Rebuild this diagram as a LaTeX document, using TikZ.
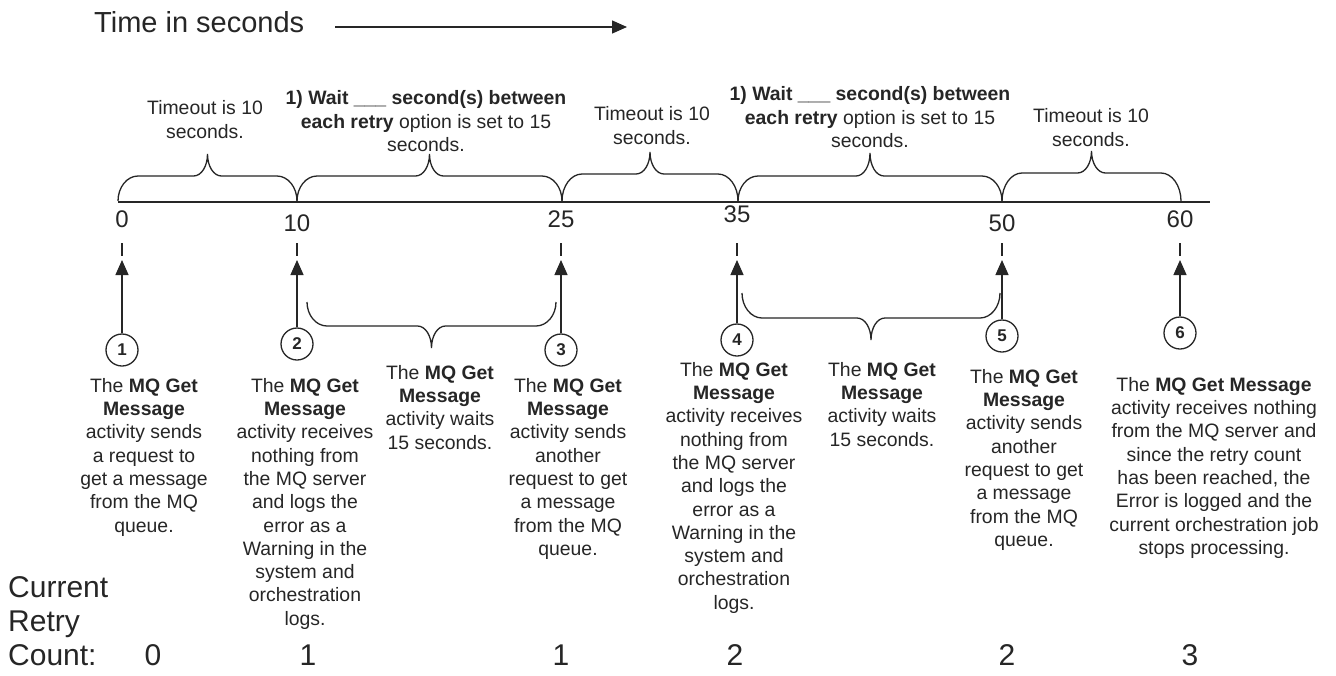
\documentclass[tikz,border=0pt]{standalone}
\usepackage{fontspec}
\setmainfont{Liberation Sans}
\usetikzlibrary{arrows.meta}
% brace: x0 x1 yend yflat ytip
\newcommand\mybrace[5]{%
  \pgfmathsetmacro\bxm{(#1+#2)/2}%
  \pgfmathsetmacro\bya{#3+0.55*(#4-#3)}%
  \pgfmathsetmacro\byb{#4+0.45*(#5-#4)}%
  \draw[brc] (#1,#3) .. controls (#1,\bya) and (#1+9,#4) .. (#1+20,#4)
    -- (\bxm-14,#4) .. controls (\bxm-6,#4) and (\bxm,\byb) .. (\bxm,#5)
    .. controls (\bxm,\byb) and (\bxm+6,#4) .. (\bxm+14,#4)
    -- (#2-20,#4) .. controls (#2-9,#4) and (#2,\bya) .. (#2,#3);%
}
\begin{document}
\begin{tikzpicture}[x=1pt,y=-1pt,
  ink/.style={draw=black!85},
  axisline/.style={ink, line width=1.4pt},
  brc/.style={ink, line width=1.3pt},
  tickmark/.style={ink, line width=1.2pt},
  myarrow/.style={ink, line width=1.3pt, -{Triangle[length=15pt,width=13pt]}},
  num/.style={circle, ink, line width=1.3pt, minimum size=32pt, inner sep=0pt,
    font=\fontsize{17}{17}\selectfont\bfseries, text=black!85},
  desc/.style={align=center, anchor=north, inner sep=0pt,
    font=\fontsize{19.4}{23.3}\selectfont, text=black!85},
  toplbl/.style={align=center, anchor=north, inner sep=0pt,
    font=\fontsize{19.4}{23.8}\selectfont, text=black!85},
  axlbl/.style={anchor=base, inner sep=0pt, font=\fontsize{24}{24}\selectfont, text=black!85},
  cnt/.style={anchor=base, inner sep=0pt, font=\fontsize{30}{30}\selectfont, text=black!85}
]
\useasboundingbox[fill=white] (0,0) rectangle (1336,675);

% title
\node[anchor=base west, inner sep=0pt, font=\fontsize{29}{29}\selectfont, text=black!85] (time) at (94,32) {Time in seconds};
\coordinate (ts) at (335,27);
\coordinate (te) at (627,27);
\draw[myarrow] (ts) -- (te);

% axis
\coordinate (ax0) at (118,202);
\coordinate (ax1) at (1210,202);
\draw[axisline] (ax0) -- (ax1);

% upper braces
\mybrace{118}{297}{201}{176}{154}
\mybrace{297}{562}{201}{176}{154}
\mybrace{562}{738}{201}{174}{152}
\mybrace{738}{1002}{201}{176}{153}
\mybrace{1002}{1181}{201}{173}{151}

% upper labels
\node[toplbl] (l1) at (205,100) {Timeout is 10\\seconds.};
\node[toplbl] (l2) at (426,90) {\textbf{1) Wait \_\_\_ second(s) between}\\\textbf{each retry} option is set to 15\\seconds.};
\node[toplbl] (l3) at (652,106) {Timeout is 10\\seconds.};
\node[toplbl] (l4) at (870,86) {\textbf{1) Wait \_\_\_ second(s) between}\\\textbf{each retry} option is set to 15\\seconds.};
\node[toplbl] (l5) at (1091,108) {Timeout is 10\\seconds.};

% axis labels
\node[axlbl] (t0) at (122,227) {0};
\node[axlbl] (t10) at (297,231) {10};
\node[axlbl] (t25) at (561,227) {25};
\node[axlbl] (t35) at (737,222) {35};
\node[axlbl] (t50) at (1002,231) {50};
\node[axlbl] (t60) at (1180,227) {60};

% tick marks
\foreach \x in {122,297,561,737,1002,1180}
  \draw[tickmark] (\x,243) -- (\x,256);

% numbered circles and arrows
\node[num] (c1) at (122,350) {1};
\node[num] (c2) at (297,344) {2};
\node[num] (c3) at (561,350) {3};
\node[num] (c4) at (737,340) {4};
\node[num] (c5) at (1002,336) {5};
\node[num] (c6) at (1180,333) {6};
\coordinate (a1) at (122,260);
\coordinate (a2) at (297,260);
\coordinate (a3) at (561,260);
\coordinate (a4) at (737,260);
\coordinate (a5) at (1002,260);
\coordinate (a6) at (1180,260);
\draw[myarrow] (c1) -- (a1);
\draw[myarrow] (c2) -- (a2);
\draw[myarrow] (c3) -- (a3);
\draw[myarrow] (c4) -- (a4);
\draw[myarrow] (c5) -- (a5);
\draw[myarrow] (c6) -- (a6);

% lower braces
\mybrace{307}{556}{302}{326}{348}
\mybrace{742}{1000}{293}{318}{340}

% descriptions
\node[desc] (d1) at (144,378) {The \textbf{MQ Get}\\\textbf{Message}\\activity sends\\a request to\\get a message\\from the MQ\\queue.};
\node[desc] (d2) at (305,378) {The \textbf{MQ Get}\\\textbf{Message}\\activity receives\\nothing from\\the MQ server\\and logs the\\error as a\\Warning in the\\system and\\orchestration\\logs.};
\node[desc] (w1) at (440,365) {The \textbf{MQ Get}\\\textbf{Message}\\activity waits\\15 seconds.};
\node[desc] (d3) at (568,378) {The \textbf{MQ Get}\\\textbf{Message}\\activity sends\\another\\request to get\\a message\\from the MQ\\queue.};
\node[desc] (d4) at (734,362) {The \textbf{MQ Get}\\\textbf{Message}\\activity receives\\nothing from\\the MQ server\\and logs the\\error as a\\Warning in the\\system and\\orchestration\\logs.};
\node[desc] (w2) at (882,362) {The \textbf{MQ Get}\\\textbf{Message}\\activity waits\\15 seconds.};
\node[desc] (d5) at (1024,369) {The \textbf{MQ Get}\\\textbf{Message}\\activity sends\\another\\request to get\\a message\\from the MQ\\queue.};
\node[desc] (d6) at (1214,377) {The \textbf{MQ Get Message}\\activity receives nothing\\from the MQ server and\\since the retry count\\has been reached, the\\Error is logged and the\\current orchestration job\\stops processing.};

% retry count
\node[anchor=north west, align=left, inner sep=0pt, font=\fontsize{30}{34}\selectfont, text=black!85] (rc) at (8,576) {Current\\Retry\\Count:};
\node[cnt] (n1) at (153,665) {0};
\node[cnt] (n2) at (308,665) {1};
\node[cnt] (n3) at (561,665) {1};
\node[cnt] (n4) at (735,665) {2};
\node[cnt] (n5) at (1007,665) {2};
\node[cnt] (n6) at (1190,665) {3};
\end{tikzpicture}
\end{document}
